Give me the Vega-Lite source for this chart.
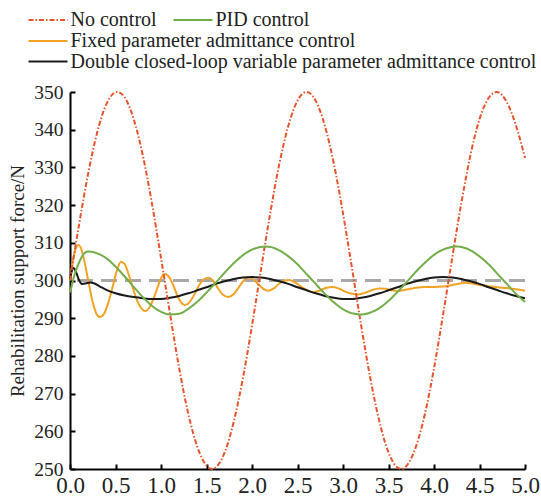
{
  "$schema": "https://vega.github.io/schema/vega-lite/v6.json",
  "width": 455,
  "height": 377,
  "autosize": {"type": "none"},
  "padding": {"left": 70, "top": 92, "right": 16, "bottom": 27},
  "background": "white",
  "config": {
    "view": {"stroke": null},
    "font": "Liberation Serif, Times New Roman, serif",
    "axis": {
      "grid": false,
      "domainColor": "black",
      "domainWidth": 2,
      "tickColor": "black",
      "tickWidth": 2,
      "tickSize": -5,
      "labelOverlap": false,
      "labelColor": "#222",
      "labelFont": "Liberation Serif, Times New Roman, serif",
      "titleFont": "Liberation Serif, Times New Roman, serif",
      "titleFontWeight": "normal",
      "titleColor": "#222"
    },
    "legend": {
      "symbolType": "M-3.9,0H3.9",
      "symbolSize": 100,
      "symbolStrokeWidth": 2,
      "labelFont": "Liberation Serif, Times New Roman, serif",
      "labelFontSize": 20,
      "labelColor": "#222",
      "labelOffset": 12.5,
      "labelLimit": 0,
      "padding": 0,
      "rowPadding": 0.5,
      "columnPadding": 12,
      "title": null
    }
  },
  "data": {"values": [
    {"t":0,"v":300,"s":"N"},{"t":0.1,"v":314.9,"s":"N"},{"t":0.2,"v":328.4,"s":"N"},{"t":0.3,"v":339.4,"s":"N"},{"t":0.4,"v":346.8,"s":"N"},{"t":0.52,"v":350,"s":"N"},{"t":0.6,"v":348.6,"s":"N"},{"t":0.7,"v":342.8,"s":"N"},{"t":0.8,"v":333.2,"s":"N"},{"t":0.9,"v":320.5,"s":"N"},{"t":1.0,"v":306.0,"s":"N"},{"t":1.1,"v":291.0,"s":"N"},{"t":1.2,"v":276.7,"s":"N"},{"t":1.3,"v":264.6,"s":"N"},{"t":1.4,"v":255.8,"s":"N"},{"t":1.5,"v":250.9,"s":"N"},{"t":1.56,"v":250,"s":"N"},{"t":1.6,"v":250.4,"s":"N"},{"t":1.7,"v":254.4,"s":"N"},{"t":1.8,"v":262.6,"s":"N"},{"t":1.9,"v":274.1,"s":"N"},{"t":2.0,"v":288.0,"s":"N"},{"t":2.1,"v":303.1,"s":"N"},{"t":2.2,"v":317.8,"s":"N"},{"t":2.3,"v":330.9,"s":"N"},{"t":2.4,"v":341.1,"s":"N"},{"t":2.5,"v":347.7,"s":"N"},{"t":2.6,"v":350,"s":"N"},{"t":2.7,"v":347.7,"s":"N"},{"t":2.8,"v":341.1,"s":"N"},{"t":2.9,"v":330.9,"s":"N"},{"t":3.0,"v":317.8,"s":"N"},{"t":3.1,"v":303.1,"s":"N"},{"t":3.2,"v":288.0,"s":"N"},{"t":3.3,"v":274.1,"s":"N"},{"t":3.4,"v":262.6,"s":"N"},{"t":3.5,"v":254.4,"s":"N"},{"t":3.6,"v":250.4,"s":"N"},{"t":3.65,"v":250,"s":"N"},{"t":3.7,"v":250.9,"s":"N"},{"t":3.8,"v":255.8,"s":"N"},{"t":3.9,"v":264.6,"s":"N"},{"t":4.0,"v":276.7,"s":"N"},{"t":4.1,"v":291.0,"s":"N"},{"t":4.2,"v":306.0,"s":"N"},{"t":4.3,"v":320.5,"s":"N"},{"t":4.4,"v":333.2,"s":"N"},{"t":4.5,"v":342.8,"s":"N"},{"t":4.6,"v":348.4,"s":"N"},{"t":4.69,"v":350,"s":"N"},{"t":4.8,"v":347.3,"s":"N"},{"t":4.9,"v":341.2,"s":"N"},{"t":5.0,"v":332.5,"s":"N"},
    {"t":0,"v":296.8,"s":"P"},{"t":0.05,"v":301.5,"s":"P"},{"t":0.1,"v":304.8,"s":"P"},{"t":0.15,"v":307,"s":"P"},{"t":0.2,"v":307.7,"s":"P"},{"t":0.3,"v":307.2,"s":"P"},{"t":0.4,"v":305.9,"s":"P"},{"t":0.5,"v":303.7,"s":"P"},{"t":0.6,"v":301.1,"s":"P"},{"t":0.7,"v":298.3,"s":"P"},{"t":0.8,"v":295.6,"s":"P"},{"t":0.9,"v":293.3,"s":"P"},{"t":1.0,"v":291.7,"s":"P"},{"t":1.1,"v":291.0,"s":"P"},{"t":1.2,"v":291.2,"s":"P"},{"t":1.3,"v":292.5,"s":"P"},{"t":1.4,"v":294.4,"s":"P"},{"t":1.5,"v":296.8,"s":"P"},{"t":1.6,"v":299.4,"s":"P"},{"t":1.7,"v":302.1,"s":"P"},{"t":1.8,"v":304.6,"s":"P"},{"t":1.9,"v":306.7,"s":"P"},{"t":2.0,"v":308.2,"s":"P"},{"t":2.1,"v":308.9,"s":"P"},{"t":2.14,"v":309.0,"s":"P"},{"t":2.2,"v":308.9,"s":"P"},{"t":2.3,"v":308.0,"s":"P"},{"t":2.4,"v":306.4,"s":"P"},{"t":2.5,"v":304.3,"s":"P"},{"t":2.6,"v":301.7,"s":"P"},{"t":2.7,"v":299.1,"s":"P"},{"t":2.8,"v":296.5,"s":"P"},{"t":2.9,"v":294.2,"s":"P"},{"t":3.0,"v":292.4,"s":"P"},{"t":3.1,"v":291.3,"s":"P"},{"t":3.2,"v":291.0,"s":"P"},{"t":3.3,"v":291.5,"s":"P"},{"t":3.4,"v":292.7,"s":"P"},{"t":3.5,"v":294.6,"s":"P"},{"t":3.6,"v":297.0,"s":"P"},{"t":3.7,"v":299.6,"s":"P"},{"t":3.8,"v":302.3,"s":"P"},{"t":3.9,"v":304.7,"s":"P"},{"t":4.0,"v":306.8,"s":"P"},{"t":4.1,"v":308.2,"s":"P"},{"t":4.2,"v":308.9,"s":"P"},{"t":4.25,"v":309.0,"s":"P"},{"t":4.3,"v":308.9,"s":"P"},{"t":4.4,"v":308.0,"s":"P"},{"t":4.5,"v":306.4,"s":"P"},{"t":4.6,"v":304.3,"s":"P"},{"t":4.7,"v":301.7,"s":"P"},{"t":4.8,"v":299.1,"s":"P"},{"t":4.9,"v":296.5,"s":"P"},{"t":5.0,"v":294.3,"s":"P"},
    {"t":0,"v":300,"s":"F"},{"t":0.03,"v":305,"s":"F"},{"t":0.06,"v":308.3,"s":"F"},{"t":0.09,"v":309.4,"s":"F"},{"t":0.12,"v":308.6,"s":"F"},{"t":0.15,"v":306,"s":"F"},{"t":0.2,"v":300,"s":"F"},{"t":0.25,"v":294.2,"s":"F"},{"t":0.29,"v":291.2,"s":"F"},{"t":0.33,"v":290.3,"s":"F"},{"t":0.37,"v":291.0,"s":"F"},{"t":0.42,"v":294,"s":"F"},{"t":0.47,"v":298.5,"s":"F"},{"t":0.52,"v":303,"s":"F"},{"t":0.56,"v":305,"s":"F"},{"t":0.6,"v":304.4,"s":"F"},{"t":0.65,"v":301.2,"s":"F"},{"t":0.7,"v":297.3,"s":"F"},{"t":0.75,"v":294.0,"s":"F"},{"t":0.8,"v":292.2,"s":"F"},{"t":0.83,"v":291.9,"s":"F"},{"t":0.87,"v":292.7,"s":"F"},{"t":0.92,"v":295.3,"s":"F"},{"t":0.97,"v":298.7,"s":"F"},{"t":1.0,"v":300.6,"s":"F"},{"t":1.04,"v":301.7,"s":"F"},{"t":1.08,"v":301.2,"s":"F"},{"t":1.13,"v":299,"s":"F"},{"t":1.18,"v":296,"s":"F"},{"t":1.22,"v":294.2,"s":"F"},{"t":1.26,"v":293.5,"s":"F"},{"t":1.3,"v":293.9,"s":"F"},{"t":1.36,"v":296,"s":"F"},{"t":1.42,"v":298.8,"s":"F"},{"t":1.47,"v":300.3,"s":"F"},{"t":1.52,"v":300.7,"s":"F"},{"t":1.57,"v":300,"s":"F"},{"t":1.63,"v":297.8,"s":"F"},{"t":1.68,"v":296.2,"s":"F"},{"t":1.74,"v":295.6,"s":"F"},{"t":1.8,"v":296.4,"s":"F"},{"t":1.86,"v":298.4,"s":"F"},{"t":1.91,"v":300,"s":"F"},{"t":1.96,"v":300.8,"s":"F"},{"t":2.01,"v":300.4,"s":"F"},{"t":2.07,"v":299,"s":"F"},{"t":2.13,"v":297.7,"s":"F"},{"t":2.18,"v":297.3,"s":"F"},{"t":2.24,"v":297.9,"s":"F"},{"t":2.3,"v":299.2,"s":"F"},{"t":2.36,"v":300,"s":"F"},{"t":2.41,"v":300.1,"s":"F"},{"t":2.47,"v":299.5,"s":"F"},{"t":2.53,"v":298.5,"s":"F"},{"t":2.6,"v":297.5,"s":"F"},{"t":2.67,"v":296.9,"s":"F"},{"t":2.74,"v":297.3,"s":"F"},{"t":2.82,"v":298.1,"s":"F"},{"t":2.89,"v":298.3,"s":"F"},{"t":2.96,"v":297.8,"s":"F"},{"t":3.03,"v":297,"s":"F"},{"t":3.1,"v":296.5,"s":"F"},{"t":3.17,"v":296.3,"s":"F"},{"t":3.25,"v":296.8,"s":"F"},{"t":3.32,"v":297.5,"s":"F"},{"t":3.4,"v":297.9,"s":"F"},{"t":3.47,"v":297.8,"s":"F"},{"t":3.53,"v":297.4,"s":"F"},{"t":3.6,"v":297.2,"s":"F"},{"t":3.7,"v":297.6,"s":"F"},{"t":3.8,"v":298.1,"s":"F"},{"t":3.9,"v":298.3,"s":"F"},{"t":4.0,"v":298.3,"s":"F"},{"t":4.1,"v":298.4,"s":"F"},{"t":4.2,"v":298.8,"s":"F"},{"t":4.3,"v":299.3,"s":"F"},{"t":4.35,"v":299.4,"s":"F"},{"t":4.42,"v":299.2,"s":"F"},{"t":4.5,"v":298.8,"s":"F"},{"t":4.6,"v":298.5,"s":"F"},{"t":4.7,"v":298.2,"s":"F"},{"t":4.8,"v":298.0,"s":"F"},{"t":4.9,"v":297.7,"s":"F"},{"t":5.0,"v":297.3,"s":"F"},
    {"t":0,"v":300.5,"s":"D"},{"t":0.02,"v":302.5,"s":"D"},{"t":0.04,"v":303.3,"s":"D"},{"t":0.07,"v":302,"s":"D"},{"t":0.1,"v":300.1,"s":"D"},{"t":0.13,"v":299.1,"s":"D"},{"t":0.17,"v":299.2,"s":"D"},{"t":0.22,"v":299.5,"s":"D"},{"t":0.27,"v":299.2,"s":"D"},{"t":0.33,"v":298.4,"s":"D"},{"t":0.4,"v":297.5,"s":"D"},{"t":0.5,"v":296.6,"s":"D"},{"t":0.6,"v":296.0,"s":"D"},{"t":0.7,"v":295.6,"s":"D"},{"t":0.8,"v":295.3,"s":"D"},{"t":0.9,"v":295.1,"s":"D"},{"t":1.0,"v":295.1,"s":"D"},{"t":1.1,"v":295.4,"s":"D"},{"t":1.2,"v":295.9,"s":"D"},{"t":1.3,"v":296.6,"s":"D"},{"t":1.4,"v":297.4,"s":"D"},{"t":1.5,"v":298.2,"s":"D"},{"t":1.6,"v":299.1,"s":"D"},{"t":1.7,"v":299.8,"s":"D"},{"t":1.8,"v":300.4,"s":"D"},{"t":1.9,"v":300.8,"s":"D"},{"t":2.0,"v":300.9,"s":"D"},{"t":2.1,"v":300.8,"s":"D"},{"t":2.2,"v":300.4,"s":"D"},{"t":2.3,"v":299.8,"s":"D"},{"t":2.4,"v":299.1,"s":"D"},{"t":2.5,"v":298.2,"s":"D"},{"t":2.6,"v":297.4,"s":"D"},{"t":2.7,"v":296.6,"s":"D"},{"t":2.8,"v":295.9,"s":"D"},{"t":2.9,"v":295.4,"s":"D"},{"t":3.0,"v":295.1,"s":"D"},{"t":3.1,"v":295.1,"s":"D"},{"t":3.2,"v":295.4,"s":"D"},{"t":3.3,"v":295.9,"s":"D"},{"t":3.4,"v":296.6,"s":"D"},{"t":3.5,"v":297.4,"s":"D"},{"t":3.6,"v":298.2,"s":"D"},{"t":3.7,"v":299.1,"s":"D"},{"t":3.8,"v":299.8,"s":"D"},{"t":3.9,"v":300.4,"s":"D"},{"t":4.0,"v":300.8,"s":"D"},{"t":4.1,"v":300.9,"s":"D"},{"t":4.2,"v":300.8,"s":"D"},{"t":4.3,"v":300.4,"s":"D"},{"t":4.4,"v":299.8,"s":"D"},{"t":4.5,"v":299.1,"s":"D"},{"t":4.6,"v":298.2,"s":"D"},{"t":4.7,"v":297.4,"s":"D"},{"t":4.8,"v":296.6,"s":"D"},{"t":4.9,"v":295.9,"s":"D"},{"t":5.0,"v":295.3,"s":"D"}
  ]},
  "layer": [
    {
      "mark": {"type": "rule", "color": "#a8a8a8", "strokeWidth": 2, "strokeDash": [16, 8]},
      "encoding": {
        "y": {"datum": 300, "type": "quantitative", "scale": {"domain": [250, 350], "nice": false}, "title": "Rehabilitation support force/N",
              "axis": {"values": [250, 260, 270, 280, 290, 300, 310, 320, 330, 340, 350], "labelFontSize": 19.5, "labelPadding": 12, "titleFontSize": 19, "titlePadding": 6}}
      }
    },
    {
      "transform": [{"filter": {"field": "s", "oneOf": ["F", "D"]}}],
      "mark": {"type": "line", "interpolate": "monotone", "strokeWidth": 2},
      "encoding": {
        "x": {"field": "t", "type": "quantitative", "scale": {"domain": [0, 5], "nice": false}, "title": null,
              "axis": {"values": [0, 0.5, 1, 1.5, 2, 2.5, 3, 3.5, 4, 4.5, 5], "format": ".1f", "labelFontSize": 23, "labelPadding": 10, "labelFlush": false}},
        "y": {"field": "v", "type": "quantitative", "scale": {"domain": [250, 350], "nice": false}, "title": "Rehabilitation support force/N",
              "axis": {"values": [250, 260, 270, 280, 290, 300, 310, 320, 330, 340, 350], "labelFontSize": 19.5, "labelPadding": 12, "titleFontSize": 19, "titlePadding": 6}},
        "color": {"field": "s", "type": "nominal",
                  "scale": {"domain": ["F", "D"], "range": ["#f2a324", "#1a1a1a"]},
                  "legend": {"orient": "none", "legendX": -32, "legendY": -61, "direction": "vertical",
                             "labelExpr": "datum.label == 'F' ? 'Fixed parameter admittance control' : 'Double closed-loop variable parameter admittance control'"}}
      }
    },
    {
      "transform": [{"filter": {"field": "s", "oneOf": ["N", "P"]}}],
      "mark": {"type": "line", "interpolate": "monotone", "strokeWidth": 2},
      "encoding": {
        "x": {"field": "t", "type": "quantitative", "scale": {"domain": [0, 5], "nice": false}, "title": null,
              "axis": {"values": [0, 0.5, 1, 1.5, 2, 2.5, 3, 3.5, 4, 4.5, 5], "format": ".1f", "labelFontSize": 23, "labelPadding": 10, "labelFlush": false}},
        "y": {"field": "v", "type": "quantitative", "scale": {"domain": [250, 350], "nice": false}, "title": "Rehabilitation support force/N",
              "axis": {"values": [250, 260, 270, 280, 290, 300, 310, 320, 330, 340, 350], "labelFontSize": 19.5, "labelPadding": 12, "titleFontSize": 19, "titlePadding": 6}},
        "color": {"field": "s", "type": "nominal",
                  "scale": {"domain": ["N", "P"], "range": ["#e5532b", "#70ad47"]},
                  "legend": {"orient": "none", "legendX": -32, "legendY": -82, "direction": "horizontal",
                             "labelExpr": "datum.label == 'N' ? 'No control' : 'PID control'"}},
        "strokeDash": {"field": "s", "type": "nominal",
                  "scale": {"domain": ["N", "P"], "range": [[5, 2, 1.5, 2], [1, 0]]},
                  "legend": {"orient": "none", "legendX": -32, "legendY": -82, "direction": "horizontal",
                             "labelExpr": "datum.label == 'N' ? 'No control' : 'PID control'"}}
      }
    }
  ],
  "resolve": {"scale": {"color": "independent", "strokeDash": "independent"}}
}
